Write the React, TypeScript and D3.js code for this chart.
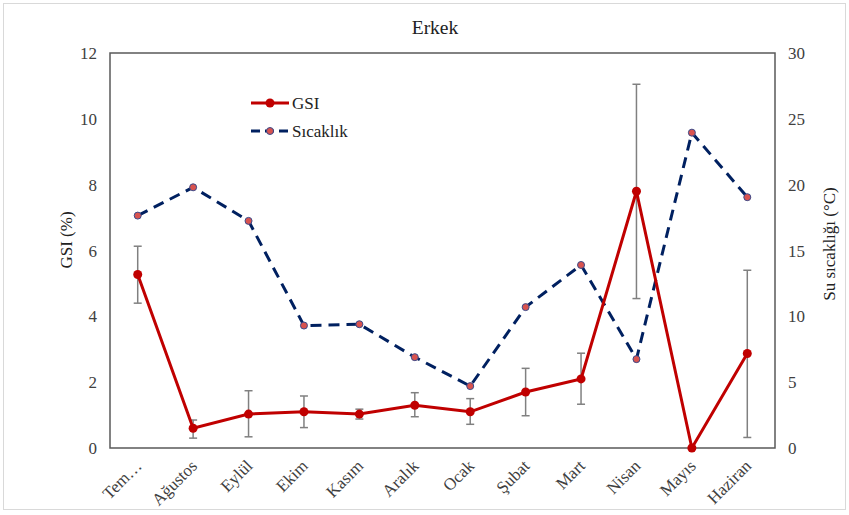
import React from "react";
import * as d3 from "d3";

const months = ["Tem…", "Ağustos", "Eylül", "Ekim", "Kasım", "Aralık", "Ocak", "Şubat", "Mart", "Nisan", "Mayıs", "Haziran"];
const gsi = [5.27, 0.6, 1.03, 1.1, 1.03, 1.3, 1.1, 1.7, 2.1, 7.8, 0.0, 2.87];
const gsiHigh = [6.13, 0.85, 1.74, 1.58, 1.18, 1.68, 1.5, 2.42, 2.88, 11.05, 0.0, 5.4];
const gsiLow = [4.4, 0.3, 0.34, 0.62, 0.88, 0.95, 0.72, 0.98, 1.33, 4.54, 0.0, 0.32];
const temp = [17.65, 19.8, 17.25, 9.3, 9.4, 6.9, 4.7, 10.7, 13.9, 6.75, 23.95, 19.05];
const leftTicks = [0, 2, 4, 6, 8, 10, 12];
const rightTicks = [0, 5, 10, 15, 20, 25, 30];

const W = 849, H = 515;
const plot = { left: 110, right: 775, top: 53, bottom: 448 };
const font = "'Liberation Serif', 'Times New Roman', serif";

export default function App() {
  const x = d3.scaleBand<string>().domain(months).range([plot.left, plot.right]);
  const yL = d3.scaleLinear().domain([0, 12]).range([plot.bottom, plot.top]);
  const yR = d3.scaleLinear().domain([0, 30]).range([plot.bottom, plot.top]);
  const cx = (m: string) => (x(m) as number) + x.bandwidth() / 2;

  const gsiLine = d3.line<number>().x((_, i) => cx(months[i])).y((d) => yL(d))(gsi) as string;
  const tempLine = d3.line<number>().x((_, i) => cx(months[i])).y((d) => yR(d))(temp) as string;

  return (
    <svg width={W} height={H} style={{ position: "absolute", left: 0, top: 0, background: "#fff" }} fontFamily={font}>
      <rect x={3.5} y={3.5} width={W - 7} height={H - 9} fill="#fff" stroke="#d9d9d9" strokeWidth={1} />
      <text x={435} y={34} textAnchor="middle" fontSize={19.5} fill="#222">Erkek</text>

      {/* plot border */}
      <rect x={plot.left} y={plot.top} width={plot.right - plot.left} height={plot.bottom - plot.top} fill="none" stroke="#595959" strokeWidth={1.5} />

      {/* left ticks */}
      {leftTicks.map((t) => (
        <text key={"l" + t} x={97} y={yL(t) + 6} textAnchor="end" fontSize={17} fill="#404040">{t}</text>
      ))}
      {rightTicks.map((t) => (
        <text key={"r" + t} x={788} y={yR(t) + 6} textAnchor="start" fontSize={17} fill="#404040">{t}</text>
      ))}
      <text transform={`translate(72,240) rotate(-90)`} textAnchor="middle" fontSize={17} fill="#222">GSI (%)</text>
      <text transform={`translate(835,244) rotate(-90)`} textAnchor="middle" fontSize={17} fill="#222">Su sıcaklığı (°C)</text>

      {/* x labels */}
      {months.map((m) => (
        <text key={m} transform={`translate(${cx(m) + 5},${plot.bottom + 19}) rotate(-45)`} textAnchor="end" fontSize={17} fill="#404040">{m}</text>
      ))}

      {/* error bars */}
      {months.map((m, i) =>
        gsiHigh[i] - gsiLow[i] > 0 ? (
          <g key={"e" + m} stroke="#808080" strokeWidth={1.5}>
            <line x1={cx(m)} x2={cx(m)} y1={yL(gsiHigh[i])} y2={yL(gsiLow[i])} />
            <line x1={cx(m) - 4} x2={cx(m) + 4} y1={yL(gsiHigh[i])} y2={yL(gsiHigh[i])} />
            <line x1={cx(m) - 4} x2={cx(m) + 4} y1={yL(gsiLow[i])} y2={yL(gsiLow[i])} />
          </g>
        ) : null
      )}

      {/* temperature */}
      <path d={tempLine} fill="none" stroke="#002060" strokeWidth={3} strokeDasharray="11,7" />
      {temp.map((t, i) => (
        <circle key={"t" + i} cx={cx(months[i])} cy={yR(t)} r={3.5} fill="#d9534f" stroke="#3b4a8a" strokeWidth={1} />
      ))}

      {/* GSI */}
      <path d={gsiLine} fill="none" stroke="#c00000" strokeWidth={3} />
      {gsi.map((g, i) => (
        <circle key={"g" + i} cx={cx(months[i])} cy={yL(g)} r={4.5} fill="#c00000" />
      ))}

      {/* legend */}
      <line x1={251} x2={289} y1={103} y2={103} stroke="#c00000" strokeWidth={3} />
      <circle cx={270} cy={103} r={4.5} fill="#c00000" />
      <text x={292} y={109} fontSize={17} fill="#222">GSI</text>
      <line x1={251} x2={289} y1={131} y2={131} stroke="#002060" strokeWidth={3} strokeDasharray="9,5" />
      <circle cx={270} cy={131} r={3.5} fill="#d9534f" stroke="#3b4a8a" strokeWidth={1} />
      <text x={292} y={137} fontSize={17} fill="#222">Sıcaklık</text>
    </svg>
  );
}
